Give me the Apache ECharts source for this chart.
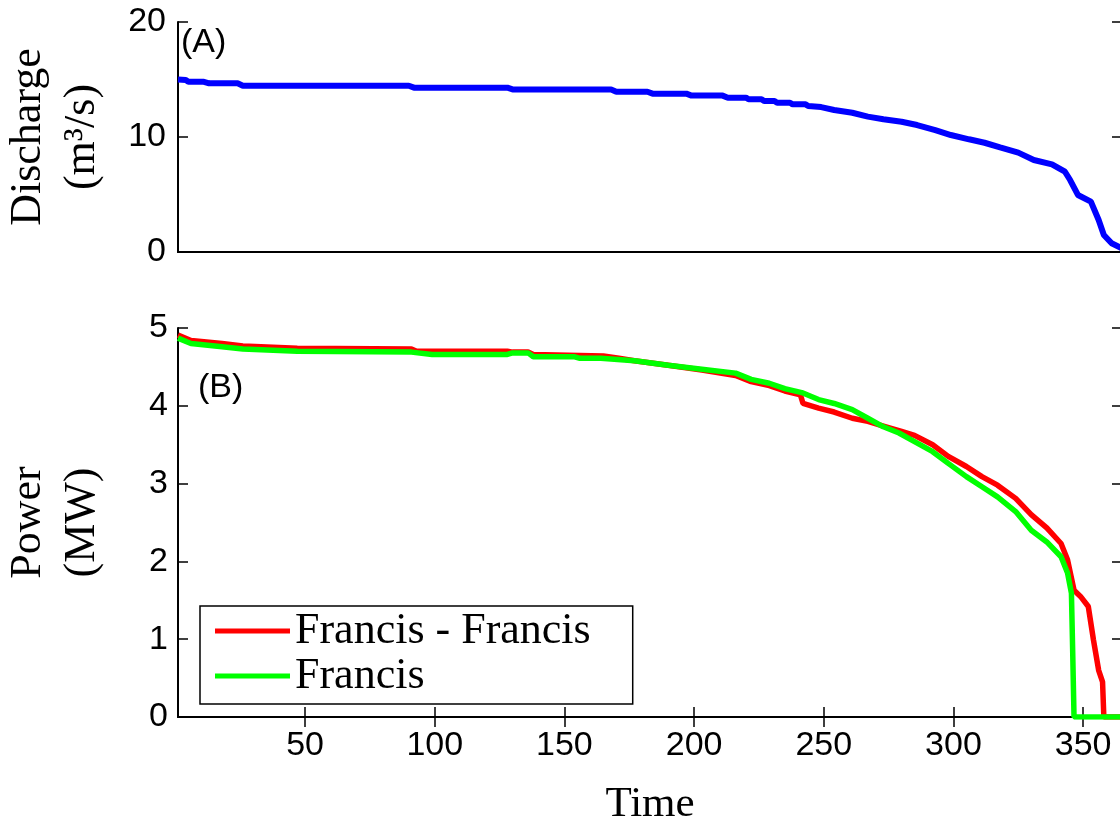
<!DOCTYPE html>
<html>
<head>
<meta charset="utf-8">
<title>Discharge and power</title>
<script src="https://cdn.jsdelivr.net/npm/echarts@6/dist/echarts.min.js"></script>
<style>
  html, body { margin: 0; padding: 0; background: #fff; }
  #chart { width: 1120px; height: 829px; }
</style>
</head>
<body>
<div id="chart"></div>
<script>
// Daily discharge, sorted (flow duration), in m3/s
const dischargeDays = [1, 4, 5, 11, 13, 24, 26, 90, 92, 128, 130, 168, 170, 182, 184, 197, 199, 211, 213, 220,
  221, 226, 227, 231, 232, 237, 238, 243, 244, 249, 254, 261, 267, 273, 280, 286, 293, 299, 306, 312,
  318, 325, 331, 338, 343, 345, 348, 353, 356, 358, 361, 365];
const dischargeValues = [15.0, 14.95, 14.8, 14.8, 14.67, 14.67, 14.46, 14.46, 14.29, 14.29, 14.14, 14.14, 13.94, 13.94, 13.77, 13.77, 13.6, 13.6, 13.42, 13.42,
  13.28, 13.28, 13.13, 13.13, 12.98, 12.98, 12.84, 12.84, 12.7, 12.6, 12.35, 12.11, 11.77, 11.54, 11.33, 11.04, 10.6, 10.17, 9.8, 9.5,
  9.1, 8.64, 8.0, 7.62, 6.98, 6.26, 4.96, 4.38, 2.78, 1.48, 0.76, 0.32];

// Power output, two-turbine configuration (MW)
const ffDays = [1, 6, 18, 26, 47, 91, 93, 128, 130, 136, 138, 165, 171, 177, 190, 203, 216, 222, 229, 235,
  241, 242, 248, 254, 261, 267, 273, 280, 285, 292, 298, 305, 311, 317, 324, 330, 336, 341.5, 344, 346.5,
  349, 352, 354, 356, 357.5, 358, 365];
const ffPower = [4.91, 4.84, 4.80, 4.77, 4.74, 4.73, 4.70, 4.70, 4.69, 4.69, 4.66, 4.64, 4.61, 4.58, 4.52, 4.46, 4.39, 4.31, 4.26, 4.19,
  4.14, 4.03, 3.97, 3.92, 3.84, 3.80, 3.74, 3.67, 3.62, 3.50, 3.35, 3.22, 3.09, 2.98, 2.81, 2.60, 2.43, 2.23, 2.02, 1.63,
  1.55, 1.42, 0.99, 0.60, 0.45, 0, 0];

// Power output, single-turbine configuration (MW)
const fDays = [1, 6, 18, 26, 47, 91, 99, 128, 130, 136, 138, 154, 156, 164, 177, 190, 203, 216, 222, 229,
  235, 241.5, 248, 254, 261, 267, 273, 279, 285, 292, 298, 305, 311, 317, 324, 330, 336, 341.5, 344, 345.5,
  346, 346.5, 365];
const fPower = [4.87, 4.80, 4.76, 4.73, 4.70, 4.69, 4.66, 4.66, 4.68, 4.68, 4.63, 4.63, 4.61, 4.61, 4.58, 4.52, 4.47, 4.42, 4.34, 4.29,
  4.22, 4.17, 4.08, 4.03, 3.95, 3.84, 3.73, 3.65, 3.54, 3.41, 3.26, 3.09, 2.96, 2.83, 2.64, 2.40, 2.25, 2.06, 1.85, 1.59,
  0.82, 0, 0];

const xTicks = [50, 100, 150, 200, 250, 300, 350];
const seriesNames = ['Francis - Francis', 'Francis'];
const dischargeTitle = 'Discharge\n(m³/s)';
const powerTitle = 'Power\n(MW)';
const timeTitle = 'Time';

const pairs = (xs, ys) => xs.map((x, i) => [x, ys[i]]);

const sans = 'Liberation Sans, Arial, sans-serif';
const serif = 'Liberation Serif, Times New Roman, serif';
const axisLine = { show: true, lineStyle: { color: '#000', width: 2 } };
const innerTick = { show: true, inside: true, length: 10, lineStyle: { color: '#000', width: 1.5 } };
const tickLabel = { color: '#000', fontFamily: sans, fontSize: 34 };
const nameStyle = { color: '#000', fontFamily: serif, fontSize: 44, lineHeight: 54 };

const GL = 178, GW = 944;

const chart = echarts.init(document.getElementById('chart'), null, { renderer: 'canvas' });
chart.setOption({
  animation: false,
  backgroundColor: '#fff',
  grid: [
    { left: GL, top: 22, width: GW, height: 230, containLabel: false, outerBoundsMode: 'none' },
    { left: GL, top: 328, width: GW, height: 389, containLabel: false, outerBoundsMode: 'none' }
  ],
  xAxis: [
    { type: 'value', gridIndex: 0, position: 'bottom', min: 1, max: 365,
      axisLine, axisTick: { show: false }, axisLabel: { show: false }, splitLine: { show: false } },
    { type: 'value', gridIndex: 0, position: 'top', min: 1, max: 365,
      axisLine, axisTick: { show: false }, axisLabel: { show: false }, splitLine: { show: false } },
    { type: 'value', gridIndex: 1, position: 'bottom', min: 1, max: 365,
      axisLine,
      axisTick: Object.assign({}, innerTick, { customValues: xTicks }),
      axisLabel: Object.assign({}, tickLabel, { margin: 12, customValues: xTicks }),
      splitLine: { show: false },
      name: timeTitle, nameLocation: 'middle', nameGap: 66,
      nameTextStyle: Object.assign({}, nameStyle, { fontSize: 43, lineHeight: 44 }) },
    { type: 'value', gridIndex: 1, position: 'top', min: 1, max: 365,
      axisLine,
      axisTick: Object.assign({}, innerTick, { customValues: xTicks }),
      axisLabel: { show: false }, splitLine: { show: false } }
  ],
  yAxis: [
    { type: 'value', gridIndex: 0, position: 'left', min: 0, max: 20, interval: 10,
      axisLine, axisTick: innerTick, axisLabel: Object.assign({}, tickLabel, { margin: 12 }),
      splitLine: { show: false },
      name: dischargeTitle, nameLocation: 'middle', nameRotate: 90, nameGap: 69,
      nameTextStyle: nameStyle },
    { type: 'value', gridIndex: 0, position: 'right', min: 0, max: 20, interval: 10,
      axisLine, axisTick: innerTick, axisLabel: { show: false }, splitLine: { show: false } },
    { type: 'value', gridIndex: 1, position: 'left', min: 0, max: 5, interval: 1,
      axisLine, axisTick: innerTick, axisLabel: Object.assign({}, tickLabel, { margin: 10 }),
      splitLine: { show: false },
      name: powerTitle, nameLocation: 'middle', nameRotate: 90, nameGap: 69,
      nameTextStyle: nameStyle },
    { type: 'value', gridIndex: 1, position: 'right', min: 0, max: 5, interval: 1,
      axisLine, axisTick: innerTick, axisLabel: { show: false }, splitLine: { show: false } }
  ],
  legend: {
    orient: 'vertical',
    left: 200, top: 606,
    data: seriesNames,
    icon: 'rect',
    itemWidth: 75, itemHeight: 5,
    itemGap: 1,
    padding: [3, 42, 6, 15],
    backgroundColor: '#fff',
    borderColor: '#000', borderWidth: 1.5, borderRadius: 0,
    textStyle: { color: '#000', fontFamily: serif, fontSize: 44, lineHeight: 40 }
  },
  graphic: [
    { type: 'text', left: 181, top: 26, z: 10,
      style: { text: '(A)', fill: '#000', font: '34px ' + sans } },
    { type: 'text', left: 198, top: 371, z: 10,
      style: { text: '(B)', fill: '#000', font: '34px ' + sans } }
  ],
  series: [
    { type: 'line', name: 'Discharge', xAxisIndex: 0, yAxisIndex: 0,
      data: pairs(dischargeDays, dischargeValues), showSymbol: false, symbol: 'none',
      lineStyle: { color: '#0000FF', width: 6 }, itemStyle: { color: '#0000FF' } },
    { type: 'line', name: seriesNames[0], xAxisIndex: 2, yAxisIndex: 2,
      data: pairs(ffDays, ffPower), showSymbol: false, symbol: 'none',
      lineStyle: { color: '#FF0000', width: 5.5 }, itemStyle: { color: '#FF0000' } },
    { type: 'line', name: seriesNames[1], xAxisIndex: 2, yAxisIndex: 2,
      data: pairs(fDays, fPower), showSymbol: false, symbol: 'none',
      lineStyle: { color: '#00FF00', width: 5.5 }, itemStyle: { color: '#00FF00' } }
  ]
});
</script>
</body>
</html>
